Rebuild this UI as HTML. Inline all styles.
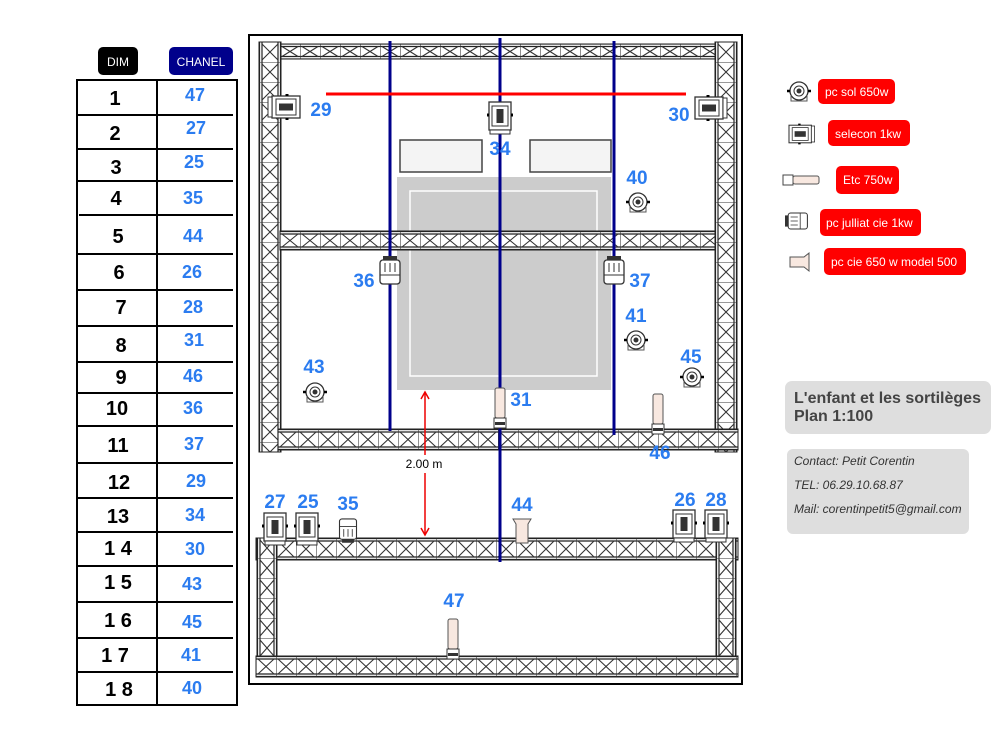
<!DOCTYPE html>
<html><head><meta charset="utf-8"><style>
html,body{margin:0;padding:0;background:#fff;width:1000px;height:750px;overflow:hidden}
svg{display:block}
</style></head><body>
<svg width="1000" height="750" viewBox="0 0 1000 750" xmlns="http://www.w3.org/2000/svg" font-family="Liberation Sans, sans-serif">
<defs>
<pattern id="hT" x="280" y="44" width="20" height="15" patternUnits="userSpaceOnUse"><rect width="20" height="15" fill="#fff"/><path d="M0 0H20M0 15H20M0 2.5H20M0 12.5H20" stroke="#222" stroke-width="1.2"/><path d="M0 0V15M2 2.5L18 12.5M18 2.5L2 12.5" stroke="#333" stroke-width="1.1" fill="none"/></pattern>
<pattern id="hM" x="280" y="231" width="20" height="19" patternUnits="userSpaceOnUse"><rect width="20" height="19" fill="#fff"/><path d="M0 0.5H20M0 18.5H20M0 3H20M0 16H20" stroke="#222" stroke-width="1.2"/><path d="M0 0V19M2 3L18 16M18 3L2 16" stroke="#333" stroke-width="1.1"/></pattern>
<pattern id="hL" x="278" y="429" width="20" height="21" patternUnits="userSpaceOnUse"><rect width="20" height="21" fill="#fff"/><path d="M0 0.5H20M0 20.5H20M0 3H20M0 18H20" stroke="#222" stroke-width="1.2"/><path d="M0 0V21M2 3L18 18M18 3L2 18" stroke="#333" stroke-width="1.1"/></pattern>
<pattern id="hB1" x="256" y="538" width="20" height="22" patternUnits="userSpaceOnUse"><rect width="20" height="22" fill="#fff"/><path d="M0 0.5H20M0 21.5H20M0 3H20M0 19H20" stroke="#222" stroke-width="1.2"/><path d="M0 0V22M2 3L18 19M18 3L2 19" stroke="#333" stroke-width="1.1"/></pattern>
<pattern id="hB2" x="256" y="656" width="20" height="21" patternUnits="userSpaceOnUse"><rect width="20" height="21" fill="#fff"/><path d="M0 0.5H20M0 20.5H20M0 3H20M0 18H20" stroke="#222" stroke-width="1.2"/><path d="M0 0V21M2 3L18 18M18 3L2 18" stroke="#333" stroke-width="1.1"/></pattern>
<pattern id="vL" x="259" y="42" width="22" height="20" patternUnits="userSpaceOnUse"><rect width="22" height="20" fill="#fff"/><path d="M0.5 0V20M21.5 0V20M3 0V20M19 0V20" stroke="#222" stroke-width="1.2"/><path d="M0 0H22M3 2L19 18M19 2L3 18" stroke="#333" stroke-width="1.1"/></pattern>
<pattern id="vR" x="715" y="42" width="22" height="20" patternUnits="userSpaceOnUse"><rect width="22" height="20" fill="#fff"/><path d="M0.5 0V20M21.5 0V20M3 0V20M19 0V20" stroke="#222" stroke-width="1.2"/><path d="M0 0H22M3 2L19 18M19 2L3 18" stroke="#333" stroke-width="1.1"/></pattern>
<pattern id="vBL" x="257" y="538" width="20" height="20" patternUnits="userSpaceOnUse"><rect width="20" height="20" fill="#fff"/><path d="M0.5 0V20M19.5 0V20M3 0V20M17 0V20" stroke="#222" stroke-width="1.2"/><path d="M0 0H20M3 2L17 18M17 2L3 18" stroke="#333" stroke-width="1.1"/></pattern>
<pattern id="vBR" x="716" y="538" width="20" height="20" patternUnits="userSpaceOnUse"><rect width="20" height="20" fill="#fff"/><path d="M0.5 0V20M19.5 0V20M3 0V20M17 0V20" stroke="#222" stroke-width="1.2"/><path d="M0 0H20M3 2L17 18M17 2L3 18" stroke="#333" stroke-width="1.1"/></pattern>
<g id="pcsol"><circle r="9" fill="#fff" stroke="#333" stroke-width="1.3"/><circle r="5" fill="#fff" stroke="#333"/><circle r="2.5" fill="#333"/><path d="M-12 0H-9M9 0H12" stroke="#000" stroke-width="2.5"/><path d="M-8 4V10H8V4" fill="none" stroke="#555"/></g>
<g id="selv"><rect x="-11" y="-15" width="22" height="28" fill="#fff" stroke="#333" stroke-width="1.3"/><rect x="-8" y="-11" width="16" height="20" fill="#fff" stroke="#333"/><rect x="-3.5" y="-8" width="7" height="14" fill="#333"/><rect x="-10" y="13" width="20" height="4" fill="#fff" stroke="#333"/><path d="M-13 -2H-11M11 -2H13" stroke="#000" stroke-width="3"/></g>
<g id="jul"><rect x="-10" y="-13" width="20" height="24" rx="3" fill="#fff" stroke="#333" stroke-width="1.3"/><path d="M-10 -4H10M-5 -1V8M0 -1V8M5 -1V8" stroke="#333"/><rect x="-7" y="11" width="14" height="4" fill="#333"/></g>
<g id="etc"><rect x="-5" y="-22" width="10" height="30" rx="2" fill="#f8e8e0" stroke="#555"/><rect x="-6" y="8" width="12" height="10" fill="#fff" stroke="#333"/><rect x="-5" y="12" width="10" height="3" fill="#333"/></g>
</defs>

<rect x="98" y="47" width="40" height="28" rx="5" fill="#000"/>
<text x="118" y="66" fill="#fff" font-size="12" text-anchor="middle">DIM</text>
<rect x="169" y="47" width="64" height="28" rx="5" fill="#00008b"/>
<text x="201" y="66" fill="#fff" font-size="12" text-anchor="middle">CHANEL</text>
<rect x="77" y="80" width="160" height="625" fill="none" stroke="#000" stroke-width="2"/>
<line x1="157" y1="80" x2="157" y2="705" stroke="#000" stroke-width="2"/>
<g stroke="#000" stroke-width="2">
<line x1="77" y1="115" x2="233" y2="115"/><line x1="77" y1="149" x2="233" y2="149"/><line x1="77" y1="181" x2="233" y2="181"/><line x1="79" y1="215" x2="233" y2="215"/><line x1="77" y1="254" x2="233" y2="254"/><line x1="77" y1="290" x2="233" y2="290"/><line x1="77" y1="326" x2="233" y2="326"/><line x1="77" y1="362" x2="233" y2="362"/><line x1="77" y1="393" x2="233" y2="393"/><line x1="77" y1="426" x2="233" y2="426"/><line x1="77" y1="463" x2="233" y2="463"/><line x1="77" y1="498" x2="233" y2="498"/><line x1="77" y1="532" x2="233" y2="532"/><line x1="77" y1="566" x2="233" y2="566"/><line x1="77" y1="602" x2="233" y2="602"/><line x1="77" y1="638" x2="233" y2="638"/><line x1="77" y1="672" x2="233" y2="672"/>
</g>
<g font-size="20" font-weight="bold" fill="#000" text-anchor="middle">
<text x="115" y="105">1</text><text x="115" y="140">2</text><text x="116" y="174">3</text><text x="116" y="205">4</text><text x="118" y="243">5</text><text x="119" y="279">6</text><text x="121" y="314">7</text><text x="121" y="352">8</text><text x="121" y="384">9</text><text x="117" y="415">10</text><text x="118" y="452">11</text><text x="119" y="489">12</text><text x="118" y="523">13</text><text x="118" y="555">1 4</text><text x="118" y="589">1 5</text><text x="118" y="627">1 6</text><text x="115" y="662">1 7</text><text x="119" y="696">1 8</text>
</g>
<g font-size="18" font-weight="bold" fill="#2b7cf0" text-anchor="middle">
<text x="195" y="101">47</text><text x="196" y="134">27</text><text x="194" y="168">25</text><text x="193" y="204">35</text><text x="193" y="242">44</text><text x="192" y="278">26</text><text x="193" y="313">28</text><text x="194" y="346">31</text><text x="193" y="382">46</text><text x="193" y="414">36</text><text x="194" y="450">37</text><text x="196" y="487">29</text><text x="195" y="521">34</text><text x="195" y="555">30</text><text x="192" y="590">43</text><text x="192" y="628">45</text><text x="191" y="661">41</text><text x="192" y="694">40</text>
</g>

<rect x="249" y="35" width="493" height="649" fill="#fff" stroke="#000" stroke-width="2"/>

<rect x="400" y="140" width="82" height="32" fill="#f4f4f4" stroke="#444" stroke-width="1.5"/>
<rect x="530" y="140" width="81" height="32" fill="#f4f4f4" stroke="#444" stroke-width="1.5"/>
<rect x="397" y="177" width="214" height="213" fill="#cccccc"/>
<rect x="410" y="191" width="187" height="185" fill="none" stroke="#fff" stroke-width="1.5"/>

<rect x="280" y="44" width="435" height="15" fill="url(#hT)" stroke="#222"/>
<rect x="259" y="42" width="22" height="410" fill="url(#vL)" stroke="#222"/>
<rect x="715" y="42" width="22" height="410" fill="url(#vR)" stroke="#222"/>
<rect x="280" y="231" width="435" height="19" fill="url(#hM)" stroke="#222"/>
<rect x="278" y="429" width="460" height="21" fill="url(#hL)" stroke="#222"/>
<rect x="256" y="538" width="482" height="22" fill="url(#hB1)" stroke="#222"/>
<rect x="257" y="538" width="20" height="139" fill="url(#vBL)" stroke="#222"/>
<rect x="716" y="538" width="20" height="139" fill="url(#vBR)" stroke="#222"/>
<rect x="256" y="656" width="482" height="21" fill="url(#hB2)" stroke="#222"/>

<line x1="390" y1="41" x2="390" y2="431" stroke="#00008b" stroke-width="3"/>
<line x1="500" y1="38" x2="500" y2="562" stroke="#00008b" stroke-width="3"/>
<line x1="614" y1="41" x2="614" y2="435" stroke="#00008b" stroke-width="3"/>
<line x1="326" y1="94" x2="686" y2="94" stroke="#f00" stroke-width="3"/>

<g stroke="#e00" stroke-width="1.5" fill="none">
<line x1="425" y1="393" x2="425" y2="455"/><path d="M421 399L425 392L429 399"/>
<line x1="425" y1="473" x2="425" y2="535"/><path d="M421 528L425 535L429 528"/>
</g>
<text x="424" y="468" font-size="12" text-anchor="middle" fill="#000">2.00 m</text>

<use href="#selv" transform="translate(285,107) rotate(90)"/>
<use href="#selv" transform="translate(710,108) rotate(-90)"/>
<use href="#selv" transform="translate(500,117)"/>
<use href="#pcsol" x="638" y="202"/>
<use href="#pcsol" x="636" y="340"/>
<use href="#pcsol" x="315" y="392"/>
<use href="#pcsol" x="692" y="377"/>
<use href="#jul" transform="translate(390,271) rotate(180)"/>
<use href="#jul" transform="translate(614,271) rotate(180)"/>
<use href="#etc" x="500" y="410"/>
<use href="#etc" x="658" y="416"/>
<use href="#etc" x="453" y="641"/>
<use href="#selv" transform="translate(275,528)"/>
<use href="#selv" transform="translate(307,528)"/>
<use href="#selv" transform="translate(684,525)"/>
<use href="#selv" transform="translate(716,525)"/>
<use href="#jul" transform="translate(348,530) scale(0.85)"/>
<g transform="translate(522,530)"><path d="M-9 -11H9L6 -6V13H-6V-6Z" fill="#f8e8e0" stroke="#555"/></g>

<g font-size="19" font-weight="bold" fill="#2b7cf0" text-anchor="middle">
<text x="321" y="116">29</text><text x="679" y="121">30</text><text x="500" y="155">34</text><text x="637" y="184">40</text><text x="364" y="287">36</text><text x="640" y="287">37</text><text x="636" y="322">41</text><text x="314" y="373">43</text><text x="691" y="363">45</text><text x="521" y="406">31</text><text x="660" y="459">46</text><text x="275" y="508">27</text><text x="308" y="508">25</text><text x="348" y="510">35</text><text x="522" y="511">44</text><text x="685" y="506">26</text><text x="716" y="506">28</text><text x="454" y="607">47</text>
</g>

<use href="#pcsol" x="799" y="91"/>
<g transform="translate(801,134) rotate(-90) scale(0.8)"><use href="#selv"/></g>
<g transform="translate(801,180)"><rect x="-18" y="-5" width="10" height="10" fill="#fff" stroke="#444"/><rect x="-8" y="-4" width="26" height="8" rx="2" fill="#f8e8e0" stroke="#555"/></g>
<g transform="translate(797,221) rotate(90) scale(0.8)"><use href="#jul"/></g>
<g transform="translate(799,262)"><path d="M-9 -5H5L10 -9V9L5 5H-9Z" fill="#f8e8e0" stroke="#555"/></g>
<g fill="#f00">
<rect x="818" y="79" width="77" height="25" rx="5"/>
<rect x="828" y="120" width="82" height="26" rx="5"/>
<rect x="836" y="166" width="63" height="28" rx="5"/>
<rect x="820" y="209" width="101" height="27" rx="5"/>
<rect x="824" y="248" width="142" height="27" rx="5"/>
</g>
<g fill="#fff" font-size="12">
<text x="825" y="96">pc sol 650w</text>
<text x="835" y="138">selecon 1kw</text>
<text x="843" y="184">Etc 750w</text>
<text x="826" y="227">pc julliat cie 1kw</text>
<text x="831" y="266">pc cie 650 w model 500</text>
</g>

<rect x="785" y="381" width="206" height="53" rx="7" fill="#dedede"/>
<text x="794" y="403" font-size="16" font-weight="bold" fill="#444">L'enfant et les sortilèges</text>
<text x="794" y="421" font-size="16" font-weight="bold" fill="#444">Plan 1:100</text>
<rect x="787" y="449" width="182" height="85" rx="6" fill="#dedede"/>
<g font-size="12" font-style="italic" fill="#333">
<text x="794" y="465">Contact: Petit Corentin</text>
<text x="794" y="489">TEL: 06.29.10.68.87</text>
<text x="794" y="513">Mail: corentinpetit5@gmail.com</text>
</g>
</svg>
</body></html>
